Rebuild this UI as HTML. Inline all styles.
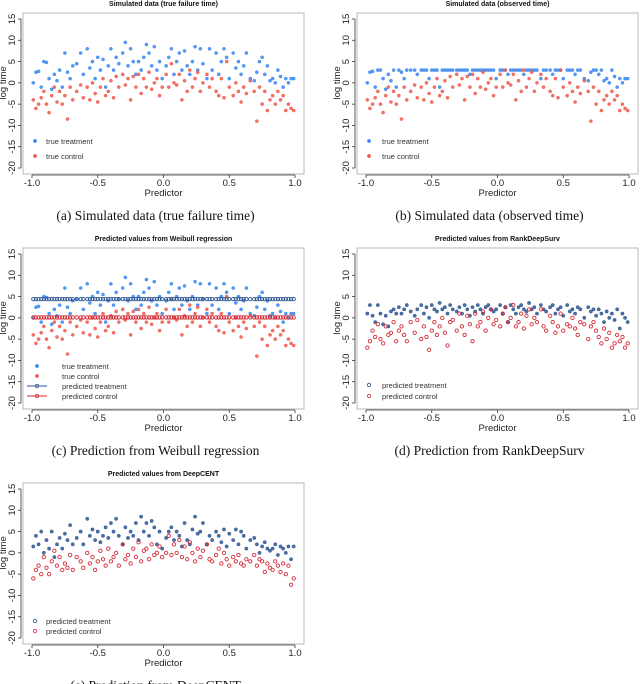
<!DOCTYPE html>
<html><head><meta charset="utf-8"><style>
html,body{margin:0;padding:0;background:#fff;}
svg{display:block;font-family:"Liberation Sans",sans-serif;}
</style></head><body>
<svg id="fig" width="640" height="684" viewBox="0 0 640 684" xmlns="http://www.w3.org/2000/svg"></svg>
<script>
const predictorX=[-0.99,-0.97,-0.95,-0.93,-0.91,-0.89,-0.87,-0.85,-0.83,-0.81,
-0.79,-0.77,-0.75,-0.73,-0.71,-0.69,-0.66,-0.63,-0.61,-0.58,
-0.56,-0.54,-0.52,-0.50,-0.48,-0.46,-0.44,-0.42,-0.40,-0.38,
-0.36,-0.34,-0.31,-0.29,-0.27,-0.25,-0.23,-0.21,-0.19,-0.17,
-0.15,-0.13,-0.11,-0.09,-0.07,-0.05,-0.03,-0.01,0.02,0.04,
0.06,0.08,0.10,0.12,0.14,0.16,0.18,0.20,0.22,0.24,
0.26,0.28,0.30,0.33,0.35,0.37,0.40,0.42,0.44,0.46,
0.48,0.50,0.53,0.55,0.57,0.59,0.61,0.63,0.66,0.69,
0.71,0.73,0.75,0.77,0.79,0.81,0.83,0.85,0.87,0.89,
0.91,0.93,0.95,0.97,0.99];
const trueTreatment=[0,2.5,2.7,-1,5,4.8,1,-1.5,2,0.5,
3,-1,7,2.5,1,4,4.5,7,2,8,
3.5,5,1,6,3,5.5,-1,4,8,3,
6,4.5,7,9.5,4,8,5,2,5,3,
6,9,7,4,8.5,3,5,1,4,6,
8,2,5,7,3,7.5,4,2,5,8.5,
3,8,4.5,1,8,3,7,2,5,8,
6,1,7,3.5,5,2,4,7,1,0.5,
2.5,5,6,2,4,0.5,1,0,3,1.5,
-1,1,0,1,1];
const trueControl=[-4,-6,-5,-3.5,-2,-5,-7,-3,-1,-4.5,
-2,-5,-3,-8.5,-1,-4,-2,-0.5,-3.5,-1,
-4,0,-2.5,-4.5,-1,1,-3,-2,0.5,-3.5,
1.5,-1,2,-0.5,1,-4,1.5,-1,2,-2.5,
1,-1,2.5,-1.5,0,1,-3,-1,2,-1,
4.5,0,-0.5,2,-4,0.5,-2,3,-1,1,
2.5,-2,0,2,-1,1,-2,-3,1,-3.5,
5,-1,-3,0,-2,-4.5,-1,-2.5,0.5,-2,
-9,-1,-5,-2,-6.5,-4,-3,-5,-2,-4,
-3,-6.5,-5,-6,-6.5];
const censorTime=3;
const weibullCoefTreatment=[4.4,0];
const weibullCoefControl=[0.1,0];
const rankTreatment=[1,3,0.5,-1,3,1,-1.5,0.5,-2,1.5,
2,1,2.5,1,2,3,1.5,0.5,2,3,
1,2.5,0,3,2,1.5,3.5,2,2.5,1,
3,2,1.5,2.5,1,3,2,0.5,2.5,1.5,
3,2,1,2.5,3,2,1.5,2,3,1,
2.5,-1,3,2,1,2.5,3,2,1.5,3.5,
2,2.5,1,3,2,1.5,2.5,3,1,2,
2.5,0.5,3,1.5,2,1,2.5,2,0,2.5,
1.5,2,0.5,2,1,-1,1.5,0,1,-0.5,
2,-2.5,1,0,-1];
const rankControl=[-7,-5.5,-3,-4.5,-1.5,-5,-6,-2,-4,-3.5,
-1,-5.5,-3,-2,-4,-5.5,-1,-3.5,-0.5,-5,
-2,-4.5,-7.5,-3,-1,-4,-2,0,-3.5,-6.5,
-1,-0.5,-3,1,-2,-4,0.5,-1.5,-5.5,1,
-2,-1,1.5,-3,0,2,-1.5,-0.5,-2,1,
2.5,-1,0,3,-2,-1,1,-2.5,0.5,2,
-1.5,0,-1,2,-2,-3,0.5,-1,-3.5,-2,
1,-3,-1.5,-2,0,-2.5,-4,-1,-1.5,-5,
-2,-1,-3,-4.5,-6,-2.5,-5,-3.5,-7,-6,
-4,-5.5,-4.5,-7,-6];
const deepTreatment=[1.5,4,2,5,0,3,1,5,-1,2,
3.5,1,4.5,3,6.5,2,3.5,5,2,8,
4,5.5,3,5,2.5,4,6,3.5,7,5,
8,4,2,6,3.5,5,4,7,3,8.5,
5,7,4,7.5,6,2,5,1,3.5,5,
6,3,5,4,1.5,7,3,2,5.5,8.5,
4.5,5,7,2,4,3,5,4,2.5,5.5,
1.5,4.5,3,5.5,2,5,4,1,3,3.5,
2,0,1.5,2.5,1,0.5,1,2,-0.5,1.5,
1,0,1.5,-1.5,1.5];
const deepControl=[-6,-4,-3,-5,-1,-3.5,-5,-2,0.5,-3,
-1,-4,-2.5,-3.5,-0.5,-4,-1,-2,-3.5,0,
-2.5,-1,-4,-2,0.5,-1.5,-3,1,-2,-1,
0,-3,2,-1.5,-0.5,-2.5,1,-1,2.5,-2,
0.5,1,-1.5,2,-0.5,0,1.5,-1,0,4,
-0.5,2,0,3,-1,1.5,-1.5,2.5,0,-2,
1,-1,0.5,2,-1.5,-2,-0.5,1,-2.5,0,
-1.5,-3,-1,-2,-0.5,-2.5,-3,-1.5,-2,-0.5,
-3,-1.5,-2,-4.5,-2.5,-3.5,-4,-2,-3,-4.5,
-2.5,-5,-3,-7.5,-6];
const yTicks=[15,10,5,0,-5,-10,-15,-20];
const xTicks=[-1.0,-0.5,0.0,0.5,1.0];
const xTickLabels=["-1.0","-0.5","0.0","0.5","1.0"];

const NS="http://www.w3.org/2000/svg";
const svg=document.getElementById('fig');
function mk(tag,attrs,parent,txt){const e=document.createElementNS(NS,tag);for(const k in attrs)e.setAttribute(k,attrs[k]);if(txt!==undefined)e.textContent=txt;(parent||svg).appendChild(e);return e;}

const C_TT="#3a86f0",C_TC="#ee5a4c",C_PT="#2d5591",C_PC="#d42a36";

function panel(id,ox,oy,title,caption){
  const g=mk('g',{});
  
  
  const x0=32+ox,x1=295+ox,boxL=23+ox,boxR=304+ox;
  const yTop=19+oy,yBot=168+oy,boxT=13+oy,boxB=174+oy;
  const sx=v=>x0+(v+1)/2*(x1-x0);
  const sy=v=>yTop+(15-v)/35*(yBot-yTop);
  const t=mk('text',{x:(boxL+boxR)/2,y:oy+6,'text-anchor':'middle','font-size':'7','font-weight':'bold',fill:'#111'},g,title);
  
  
  const box=mk('rect',{x:boxL,y:boxT,width:boxR-boxL,height:boxB-boxT,fill:'none',stroke:'#b8b8b8','stroke-width':'1'},g);
  
  
  const ya=mk('g',{},g);
  
  
  const ax=boxL-2;
  mk('line',{x1:ax,y1:sy(15),x2:ax,y2:sy(-20),stroke:'#333','stroke-width':'0.8'},ya);
  yTicks.forEach(v=>{
    mk('line',{x1:ax-3,y1:sy(v),x2:ax,y2:sy(v),stroke:'#333','stroke-width':'0.8'},ya);
    const tl=mk('text',{x:0,y:0,'text-anchor':'middle','font-size':'9.5',fill:'#222',transform:`translate(${ax-6},${sy(v)}) rotate(-90)`},ya,String(v));
    
    
  });
  const yt=mk('text',{x:0,y:0,'text-anchor':'middle','font-size':'9.5',fill:'#222',transform:`translate(${ax-15},${sy(0)}) rotate(-90)`},ya,'log time');
  
  
  const xa=mk('g',{},g);
  
  
  const ay=boxB+1;
  mk('line',{x1:sx(-1),y1:ay,x2:sx(1),y2:ay,stroke:'#333','stroke-width':'0.8'},xa);
  xTicks.forEach((v,i)=>{
    mk('line',{x1:sx(v),y1:ay,x2:sx(v),y2:ay+3,stroke:'#333','stroke-width':'0.8'},xa);
    const tl=mk('text',{x:sx(v),y:ay+11,'text-anchor':'middle','font-size':'9.5',fill:'#222'},xa,xTickLabels[i]);
    
    
  });
  const xt=mk('text',{x:sx(0),y:ay+21,'text-anchor':'middle','font-size':'9.5',fill:'#222'},xa,'Predictor');
  
  
  const cap=mk('text',{x:(boxL+boxR)/2-8,y:oy+220,'text-anchor':'middle','font-size':'13.5','font-family':'"Liberation Serif",serif',fill:'#111'},g,caption);
  
  
  return {g,sx,sy,ox,oy};
}
function dots(p,ys,color,name,opts){
  const s=mk('g',{},p.g);
  
  
  predictorX.forEach((x,i)=>{
    const c=mk('circle',{cx:p.sx(x),cy:p.sy(ys[i]),r:opts&&opts.r||1.6,fill:opts&&opts.open?'none':color,stroke:color,'stroke-width':opts&&opts.open?'0.9':'0.4','fill-opacity':'0.85'},s);
    
    
  });
}
function legend(p,items){
  const lg=mk('g',{},p.g);
  
  
  items.forEach(it=>{
    const e=mk('g',{},lg);
    
    
    if(it.line)mk('line',{x1:it.sx-10,y1:it.y,x2:it.sx+10,y2:it.y,stroke:it.c,'stroke-width':'0.9'},e);
    mk('circle',{cx:it.sx,cy:it.y,r:1.7,fill:it.open?'none':it.c,stroke:it.c,'stroke-width':it.open?'0.8':'0.4'},e);
    mk('text',{x:it.tx,y:it.y+2.8,'font-size':'7.5',fill:'#333'},e,it.t);
  });
}
// (a)
let p=panel('panel-a-true-failure',0,0,'Simulated data (true failure time)','(a) Simulated data (true failure time)');
dots(p,trueTreatment,C_TT,'series-true-treatment');
dots(p,trueControl,C_TC,'series-true-control');
legend(p,[{sx:35,tx:46,y:141,c:C_TT,t:'true treatment'},{sx:35,tx:46,y:156,c:C_TC,t:'true control'}]);
// (b)
p=panel('panel-b-observed',334,0,'Simulated data (observed time)','(b) Simulated data (observed time)');
dots(p,trueTreatment.map(v=>Math.min(v,censorTime)),C_TT,'series-observed-treatment');
dots(p,trueControl.map(v=>Math.min(v,censorTime)),C_TC,'series-observed-control');
legend(p,[{sx:369,tx:382,y:141,c:C_TT,t:'true treatment'},{sx:369,tx:382,y:156,c:C_TC,t:'true control'}]);
// (c)
p=panel('panel-c-weibull',0,235,'Predicted values from Weibull regression','(c) Prediction from Weibull regression');
dots(p,trueTreatment,C_TT,'series-true-treatment');
dots(p,trueControl,C_TC,'series-true-control');
dots(p,predictorX.map(x=>weibullCoefTreatment[0]+weibullCoefTreatment[1]*x),C_PT,'series-predicted-treatment',{open:true,r:1.7});
dots(p,predictorX.map(x=>weibullCoefControl[0]+weibullCoefControl[1]*x),C_PC,'series-predicted-control',{open:true,r:1.7});
legend(p,[{sx:37,tx:62,y:366,c:C_TT,t:'true treatment'},{sx:37,tx:62,y:376,c:C_TC,t:'true control'},{sx:37,tx:62,y:386,c:C_PT,t:'predicted treatment',line:true,open:true},{sx:37,tx:62,y:396,c:C_PC,t:'predicted control',line:true,open:true}]);
// (d)
p=panel('panel-d-rankdeepsurv',334,235,'Predicted values from RankDeepSurv','(d) Prediction from RankDeepSurv');
dots(p,rankTreatment,C_PT,'series-predicted-treatment',{r:1.7});
dots(p,rankControl,C_PC,'series-predicted-control',{open:true,r:1.7});
legend(p,[{sx:369,tx:382,y:385,c:C_PT,t:'predicted treatment',open:true},{sx:369,tx:382,y:396,c:C_PC,t:'predicted control',open:true}]);
// (e)
p=panel('panel-e-deepcent',0,470,'Predicted values from DeepCENT','(e) Prediction from DeepCENT');
dots(p,deepTreatment,C_PT,'series-predicted-treatment',{r:1.7});
dots(p,deepControl,C_PC,'series-predicted-control',{open:true,r:1.7});
legend(p,[{sx:35,tx:46,y:621,c:C_PT,t:'predicted treatment',open:true},{sx:35,tx:46,y:631,c:C_PC,t:'predicted control',open:true}]);
</script>
</body></html>
